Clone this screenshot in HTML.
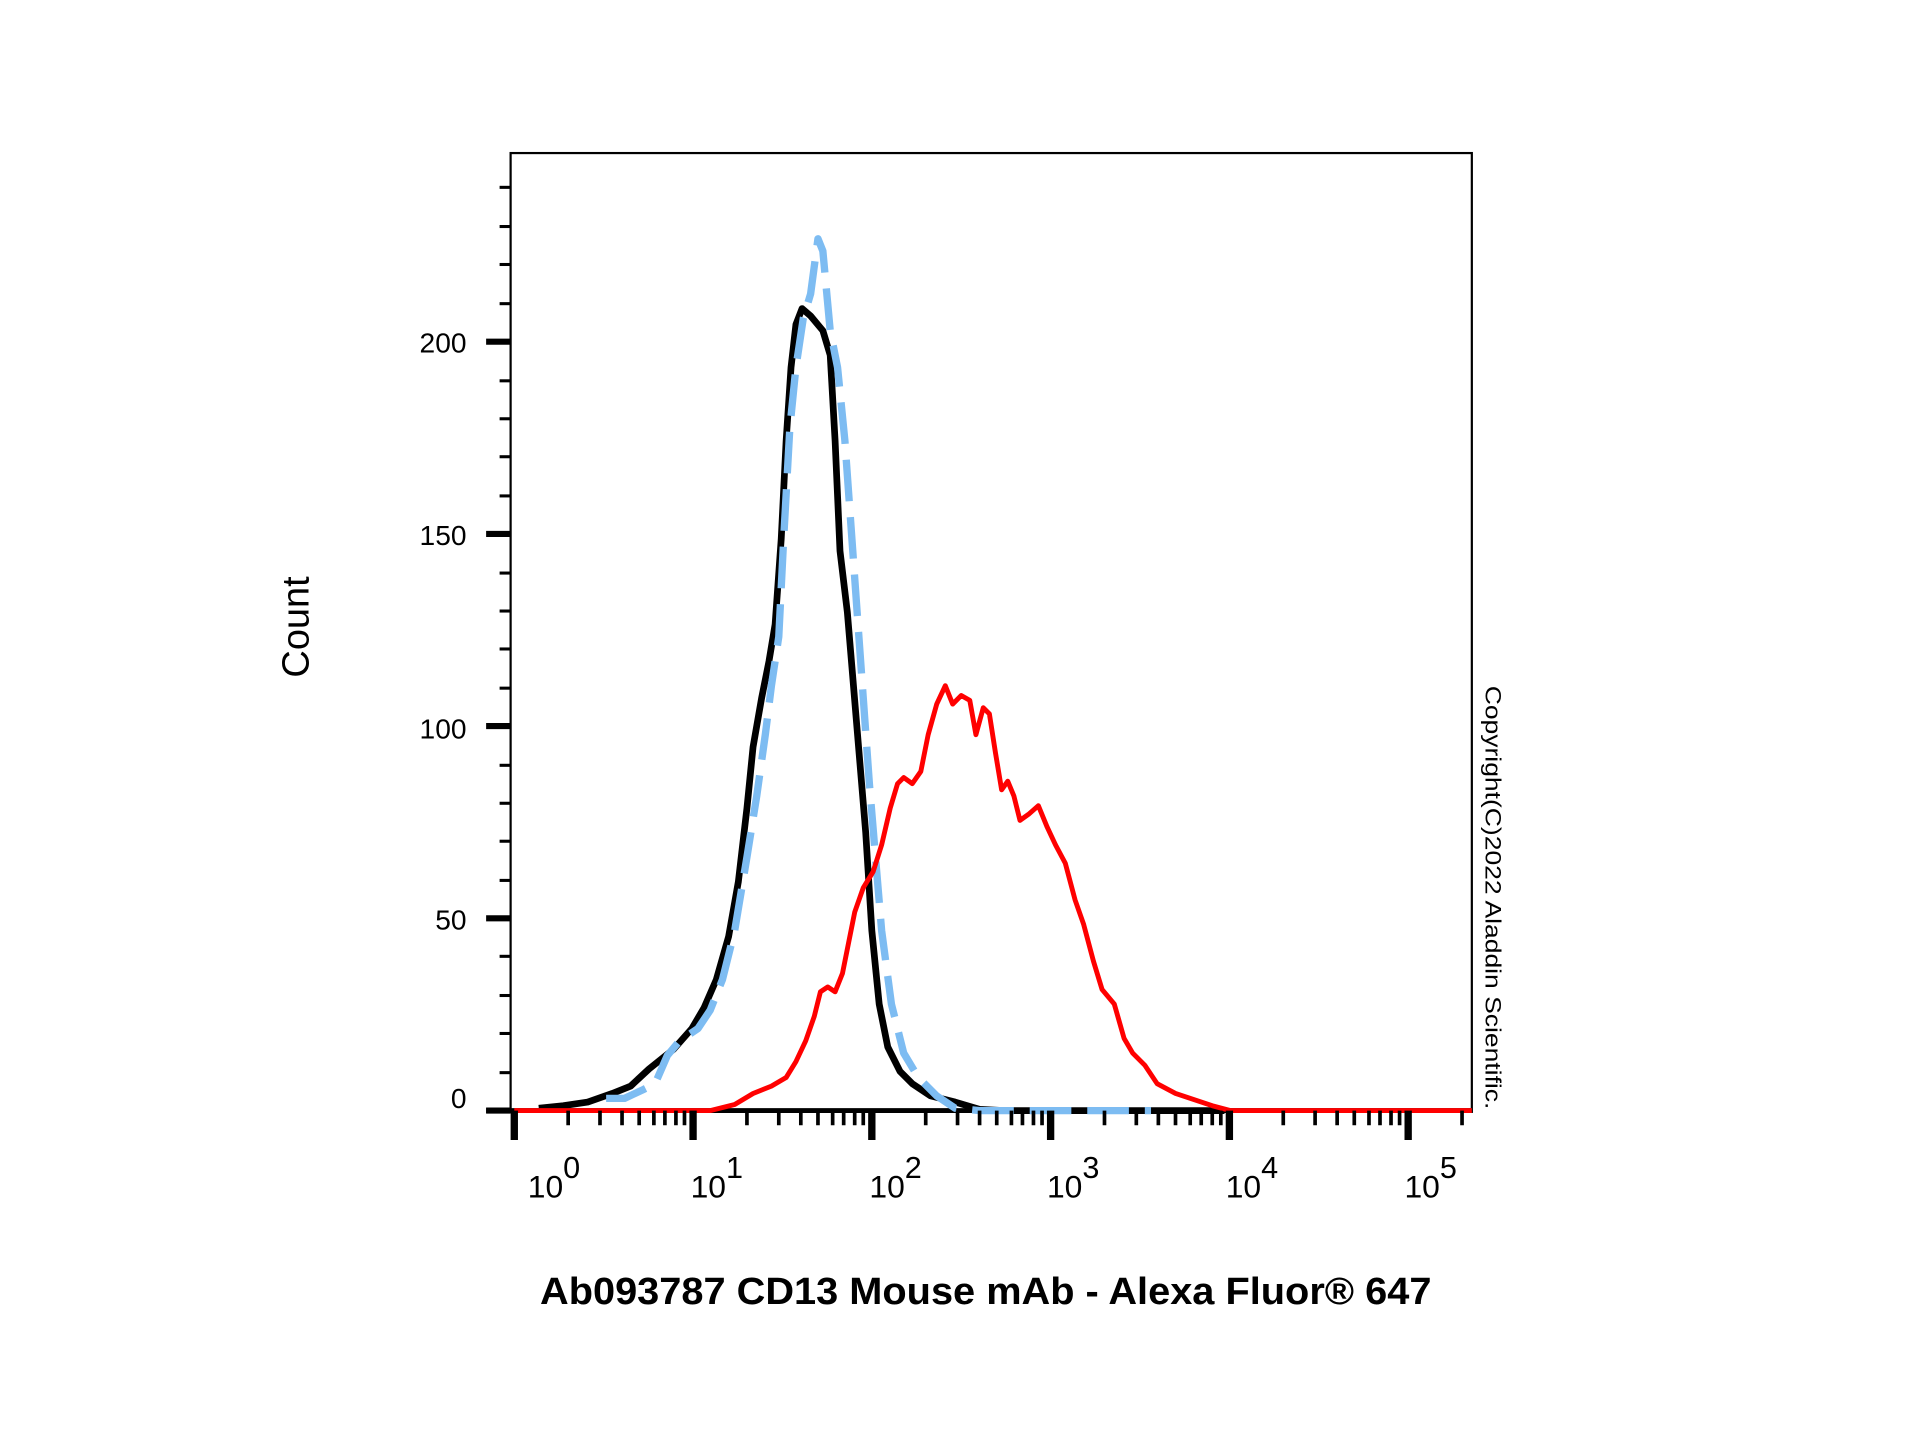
<!DOCTYPE html>
<html><head><meta charset="utf-8"><style>html,body{margin:0;padding:0;background:#fff;}svg{display:block;}</style></head>
<body>
<svg width="1920" height="1440" viewBox="0 0 1568 1176" xmlns="http://www.w3.org/2000/svg" font-family="Liberation Sans, sans-serif">
<rect width="1568" height="1176" fill="#fff"/>
<rect x="417" y="125" width="785" height="783" fill="none" stroke="#000" stroke-width="1.8"/>
<g stroke="#000">
<line x1="397" y1="907" x2="417" y2="907" stroke-width="5"/>
<line x1="397" y1="750" x2="417" y2="750" stroke-width="5"/>
<line x1="397" y1="593" x2="417" y2="593" stroke-width="5"/>
<line x1="397" y1="436" x2="417" y2="436" stroke-width="5"/>
<line x1="397" y1="279" x2="417" y2="279" stroke-width="5"/>
<g stroke-width="2.5">
<line x1="408" y1="876" x2="417" y2="876"/><line x1="408" y1="844" x2="417" y2="844"/><line x1="408" y1="813" x2="417" y2="813"/><line x1="408" y1="781" x2="417" y2="781"/>
<line x1="408" y1="719" x2="417" y2="719"/><line x1="408" y1="687" x2="417" y2="687"/><line x1="408" y1="656" x2="417" y2="656"/><line x1="408" y1="625" x2="417" y2="625"/>
<line x1="408" y1="562" x2="417" y2="562"/><line x1="408" y1="530" x2="417" y2="530"/><line x1="408" y1="499" x2="417" y2="499"/><line x1="408" y1="468" x2="417" y2="468"/>
<line x1="408" y1="405" x2="417" y2="405"/><line x1="408" y1="373" x2="417" y2="373"/><line x1="408" y1="342" x2="417" y2="342"/><line x1="408" y1="311" x2="417" y2="311"/>
<line x1="408" y1="248" x2="417" y2="248"/><line x1="408" y1="216" x2="417" y2="216"/><line x1="408" y1="185" x2="417" y2="185"/><line x1="408" y1="153" x2="417" y2="153"/>
</g>
<line x1="397" y1="907" x2="1202" y2="907" stroke-width="4"/>
</g>
<g font-size="23" text-anchor="end" fill="#000">
<text x="381" y="905">0</text><text x="381" y="759">50</text><text x="381" y="603">100</text><text x="381" y="445">150</text><text x="381" y="288">200</text>
</g>
<g font-size="26" fill="#000">
<text x="431" y="978">10<tspan dy="-16" font-size="25">0</tspan></text>
<text x="564" y="978">10<tspan dy="-16" font-size="25">1</tspan></text>
<text x="710" y="978">10<tspan dy="-16" font-size="25">2</tspan></text>
<text x="855" y="978">10<tspan dy="-16" font-size="25">3</tspan></text>
<text x="1001" y="978">10<tspan dy="-16" font-size="25">4</tspan></text>
<text x="1147" y="978">10<tspan dy="-16" font-size="25">5</tspan></text>
</g>
<text transform="translate(252,512) rotate(-90)" font-size="31" text-anchor="middle">Count</text>
<text x="805" y="1065" font-size="31" font-weight="bold" text-anchor="middle" textLength="728" lengthAdjust="spacingAndGlyphs">Ab093787 CD13 Mouse mAb - Alexa Fluor® 647</text>
<text transform="translate(1213,560) rotate(90)" font-size="18" textLength="346" lengthAdjust="spacingAndGlyphs">Copyright(C)2022 Aladdin Scientific.</text>
<g fill="none" stroke-linejoin="round">
<polyline stroke="#000" stroke-width="5.5" points="440,905 460,903 480,900 500,893 515,887 530,873 550,857 565,840 575,823 585,800 595,765 603,720 610,660 615,610 622,570 628,540 633,510 638,440 642,360 646,300 650,265 655,252 662,258 672,270 678,290 682,360 686,450 692,500 697,560 702,620 707,680 712,760 718,820 725,855 735,875 745,885 760,895 780,900 800,906 820,907 1000,907"/>
<polyline stroke="#7dbcf2" stroke-width="6" stroke-dasharray="34,13" points="495,897 510,897 525,890 535,885 545,862 555,850 570,840 580,825 590,800 600,760 610,700 618,650 625,600 630,560 636,520 640,440 645,350 650,300 656,260 662,240 668,195 672,205 678,270 684,300 690,360 695,430 700,500 705,570 710,640 715,700 720,760 728,820 738,860 750,880 765,895 780,905 800,907 940,907"/>
<polyline stroke="#f00" stroke-width="4" points="420,907 580,907 600,902 615,893 630,887 642,880 650,867 658,850 665,830 670,810 676,806 682,810 688,795 693,770 698,745 705,725 713,712 720,690 727,660 733,640 738,635 745,640 752,630 758,600 765,575 772,560 778,575 785,568 792,572 797,600 803,578 808,583 813,615 818,645 823,638 828,650 833,670 840,665 848,658 855,675 862,690 870,705 878,735 885,755 893,785 900,808 910,820 918,848 925,860 935,870 945,885 960,893 975,898 990,903 1005,907 1202,907"/>
</g>
<g stroke="#000">
<line x1="420" y1="907" x2="420" y2="931" stroke-width="6"/>
<line x1="566" y1="907" x2="566" y2="931" stroke-width="6"/>
<line x1="712" y1="907" x2="712" y2="931" stroke-width="6"/>
<line x1="858" y1="907" x2="858" y2="931" stroke-width="6"/>
<line x1="1004" y1="907" x2="1004" y2="931" stroke-width="6"/>
<line x1="1150" y1="907" x2="1150" y2="931" stroke-width="6"/>
<path stroke-width="3" d="M464,907v12M490,907v12M508,907v12M522,907v12M534,907v12M543,907v12M552,907v12M559,907v12
M610,907v12M636,907v12M654,907v12M668,907v12M680,907v12M689,907v12M698,907v12M705,907v12
M756,907v12M782,907v12M800,907v12M814,907v12M826,907v12M835,907v12M844,907v12M851,907v12
M902,907v12M928,907v12M946,907v12M960,907v12M972,907v12M981,907v12M990,907v12M997,907v12
M1048,907v12M1074,907v12M1092,907v12M1106,907v12M1118,907v12M1127,907v12M1136,907v12M1143,907v12
M1194,907v12"/>
</g>
</svg>
</body></html>
